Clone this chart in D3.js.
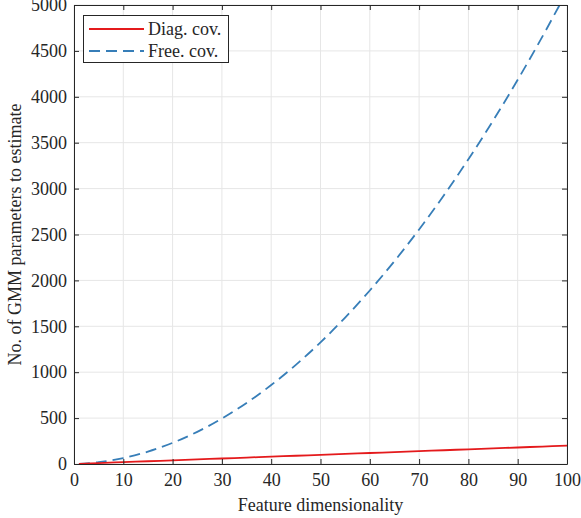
<!DOCTYPE html>
<html><head><meta charset="utf-8">
<script src="https://cdn.jsdelivr.net/npm/d3@7"></script>
<style>body{margin:0;background:#fff;} svg{display:block;} text{font-family:"Liberation Serif","Times New Roman",serif;fill:#262626;}</style>
</head><body>
<svg id="c" width="581" height="518"></svg>
<script>
const dims = [1,5,10,15,20,25,30,35,40,45,50,55,60,65,70,75,80,85,90,95,100];
const diagCov = [2,10,20,30,40,50,60,70,80,90,100,110,120,130,140,150,160,170,180,190,200];
const freeCov = [2,20,65,135,230,350,495,665,860,1080,1325,1595,1890,2210,2555,2925,3320,3740,4185,4655,5150];
const xTicks = [0,10,20,30,40,50,60,70,80,90,100];
const yTicks = [0,500,1000,1500,2000,2500,3000,3500,4000,4500,5000];
const seriesNames = ["Diag. cov.","Free. cov."];

const svg = d3.select("#c");
const L=74, R=567, T=5, B=464;
const x = d3.scaleLinear().domain([0,100]).range([L,R]);
const y = d3.scaleLinear().domain([0,5000]).range([B,T]);

// grid
svg.append("g").selectAll("line").data(xTicks).join("line")
  .attr("x1",d=>x(d)).attr("x2",d=>x(d)).attr("y1",T).attr("y2",B)
  .attr("stroke","#e6e6e6").attr("stroke-width",1);
svg.append("g").selectAll("line").data(yTicks).join("line")
  .attr("y1",d=>y(d)).attr("y2",d=>y(d)).attr("x1",L).attr("x2",R)
  .attr("stroke","#e6e6e6").attr("stroke-width",1);

svg.append("defs").append("clipPath").attr("id","clip").append("rect")
  .attr("x",L).attr("y",T).attr("width",R-L).attr("height",B-T);

const line = d3.line().x((d,i)=>x(dims[i])).y(d=>y(d)).curve(d3.curveCatmullRom);
const g = svg.append("g").attr("clip-path","url(#clip)");
g.append("path").datum(freeCov).attr("d",line).attr("fill","none")
  .attr("stroke","#377eb8").attr("stroke-width",1.8).attr("stroke-dasharray","11,6");
g.append("path").datum(diagCov).attr("d",line).attr("fill","none")
  .attr("stroke","#e41a1c").attr("stroke-width",1.8);

// axes
const fs = 18;
const fmt = d3.format("d");
svg.append("g").attr("transform",`translate(0,${B})`)
  .call(d3.axisBottom(x).tickValues(xTicks).tickFormat(fmt).tickSizeInner(-5).tickSizeOuter(0).tickPadding(9));
svg.append("g").attr("transform",`translate(${L},0)`)
  .call(d3.axisLeft(y).tickValues(yTicks).tickFormat(fmt).tickSizeInner(-5).tickSizeOuter(0).tickPadding(7));
svg.append("g").attr("transform",`translate(0,${T})`)
  .call(d3.axisTop(x).tickValues(xTicks).tickSizeInner(-5).tickSizeOuter(0).tickFormat(""));
svg.append("g").attr("transform",`translate(${R},0)`)
  .call(d3.axisRight(y).tickValues(yTicks).tickSizeInner(-5).tickSizeOuter(0).tickFormat(""));
svg.selectAll(".domain").attr("stroke","#262626").attr("stroke-width",1);
svg.selectAll(".tick line").attr("stroke","#262626");
svg.selectAll(".tick text").style("font-family",'"Liberation Serif",serif').style("font-size",fs+"px").attr("fill","#262626");

svg.append("text").attr("x",(L+R)/2).attr("y",511).attr("text-anchor","middle")
  .style("font-size","18px").text("Feature dimensionality");
svg.append("text").attr("transform",`translate(21,${(T+B)/2}) rotate(-90)`).attr("text-anchor","middle")
  .style("font-size","18px").text("No. of GMM parameters to estimate");

// legend
const lg = svg.append("g");
lg.append("rect").attr("x",83.5).attr("y",15.5).attr("width",145).attr("height",47)
  .attr("fill","#fff").attr("stroke","#262626").attr("stroke-width",1);
const cols=["#e41a1c","#377eb8"], dash=[null,"11,6"];
seriesNames.forEach((n,i)=>{
  const yy = 29 + i*22;
  lg.append("line").attr("x1",89).attr("x2",144).attr("y1",yy).attr("y2",yy)
    .attr("stroke",cols[i]).attr("stroke-width",1.8).attr("stroke-dasharray",dash[i]);
  lg.append("text").attr("x",148).attr("y",yy+6).style("font-size","18px").text(n);
});
</script>
</body></html>
